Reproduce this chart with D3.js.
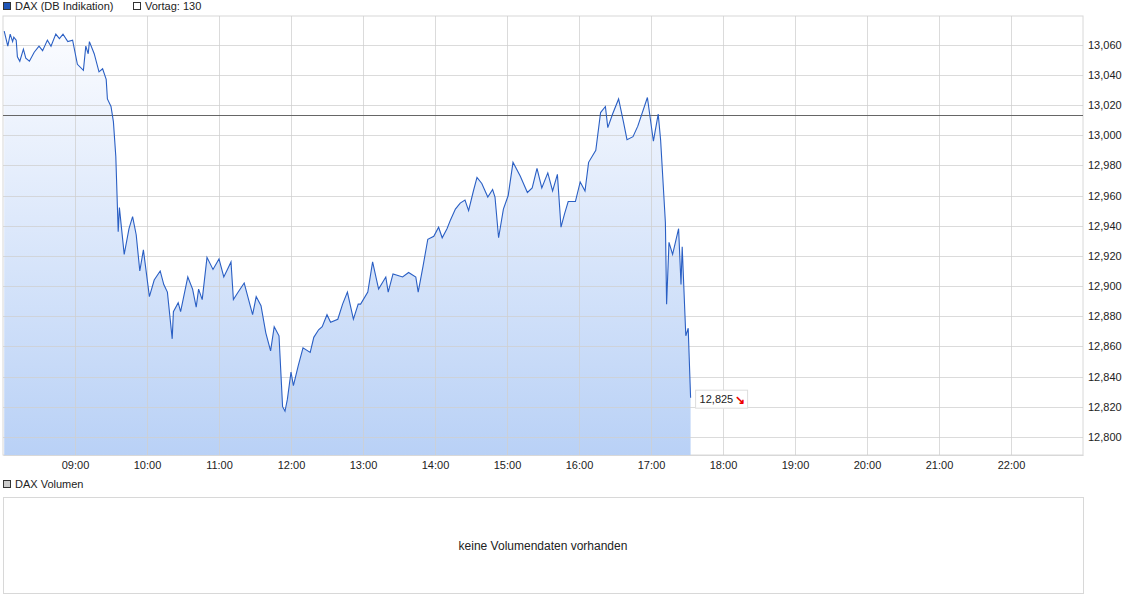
<!DOCTYPE html>
<html><head><meta charset="utf-8">
<script src="https://cdn.jsdelivr.net/npm/d3@7"></script>
<style>body{margin:0;background:#fff;font-family:Arial,"Liberation Sans",sans-serif}</style>
</head><body><svg id="c" width="1128" height="604"></svg>
<script>
// minutes after 08:00
var minutes = [1,4,6,8,9,11,12,14,17,19,22,26,30,33,37,40,44,47,50,54,58,62,67,69,71,72,76,80,83,86,87,90,92,94,96,97,101,105,108,111,114,117,122,126,131,134,137,141,142,146,148,154,158,161,163,166,170,175,180,184,187,190,192,196,201,204,208,211,215,219,223,226,230,233,235,237,240,242,246,250,256,259,263,266,270,273,279,283,287,292,296,298,304,308,313,319,321,325,333,338,344,346,350,354,359,363,366,370,373,377,381,385,388,392,395,399,404,408,410,413,417,421,425,431,437,441,445,449,454,458,462,465,468,471,477,481,485,488,494,498,502,504,508,513,517,520,525,529,537,542,546,548,552,553,555,558,563,565,566,569,571,573];
var prices = [13069,13059,13067,13062,13065,13063,13052,13049,13057,13051,13049,13055,13059,13056,13063,13059,13067,13064,13067,13062,13063,13047,13043,13059,13054,13062,13054,13042,13044,13037,13024,13019,13009,12986,12936,12952,12921,12938,12946,12934,12910,12924,12893,12904,12910,12901,12896,12865,12883,12889,12883,12906,12898,12886,12898,12891,12919,12911,12918,12906,12911,12916,12891,12896,12902,12893,12881,12893,12887,12869,12857,12873,12867,12820,12817,12825,12843,12834,12847,12859,12856,12866,12871,12873,12881,12876,12878,12888,12896,12878,12888,12888,12896,12916,12898,12906,12896,12908,12906,12909,12906,12896,12913,12931,12933,12939,12932,12938,12944,12951,12955,12957,12950,12963,12972,12968,12959,12964,12959,12932,12951,12960,12982,12973,12962,12965,12978,12965,12975,12963,12974,12939,12948,12956,12956,12969,12963,12982,12990,13015,13019,13005,13014,13024,13009,12997,12999,13006,13025,12996,13014,12997,12942,12888,12929,12921,12938,12901,12926,12867,12872,12826,12825];
var hourTicks = ["09:00","10:00","11:00","12:00","13:00","14:00","15:00","16:00","17:00","18:00","19:00","20:00","21:00","22:00"];
var priceTicks = [12800,12820,12840,12860,12880,12900,12920,12940,12960,12980,13000,13020,13040,13060];
var prevClose = 13013.5;
var lastPrice = 12825;

var de = d3.formatLocale({decimal:",",thousands:".",grouping:[3],currency:["","€"]});
var svg = d3.select("#c");
var L=3,R=1083,T=16,B=455;
var x = d3.scaleLinear().domain([0,900]).range([L,R]);
var y = d3.scaleLinear().domain([12788,13079]).range([B,T]);
var tmin = function(s){var p=s.split(":");return (+p[0]-8)*60+(+p[1]);};

var defs = svg.append("defs");
var g = defs.append("linearGradient").attr("id","gr").attr("x1",0).attr("x2",0).attr("y1",0).attr("y2",1);
g.append("stop").attr("offset",0).attr("stop-color","#fbfcff");
g.append("stop").attr("offset",1).attr("stop-color","#b9d1f6");

svg.append("rect").attr("x",L).attr("y",T).attr("width",R-L).attr("height",B-T).attr("fill","#fff").attr("stroke","#d8d8d8");

var data = minutes.map(function(m,i){return {m:m,v:prices[i]};});
svg.append("path").datum(data).attr("fill","url(#gr)")
  .attr("d",d3.area().x(function(d){return x(d.m);}).y0(B).y1(function(d){return y(d.v);}));

svg.append("g").selectAll("line").data(priceTicks).enter().append("line")
  .attr("x1",L).attr("x2",R).attr("y1",function(d){return Math.round(y(d))+0.5;}).attr("y2",function(d){return Math.round(y(d))+0.5;})
  .attr("stroke","#cfcfcf").attr("stroke-opacity",0.75);
svg.append("g").selectAll("line").data(hourTicks).enter().append("line")
  .attr("y1",T).attr("y2",B).attr("x1",function(d){return Math.round(x(tmin(d)))+0.5;}).attr("x2",function(d){return Math.round(x(tmin(d)))+0.5;})
  .attr("stroke","#cfcfcf").attr("stroke-opacity",0.75);

svg.append("line").attr("x1",L).attr("x2",R).attr("y1",Math.round(y(prevClose))+0.5).attr("y2",Math.round(y(prevClose))+0.5).attr("stroke","#666");

svg.append("path").datum(data).attr("fill","none").attr("stroke","#2a5fc4").attr("stroke-width",1.1)
  .attr("d",d3.line().x(function(d){return x(d.m);}).y(function(d){return y(d.v);}));

var fmt = de.format(",.3f");
var ya = d3.axisRight(y).tickValues(priceTicks).tickSize(0).tickPadding(5).tickFormat(function(d){return de.format(",.3f")(d/1000);});
svg.append("g").attr("transform","translate("+R+",0)").call(ya)
  .call(function(s){s.select(".domain").remove();s.selectAll("text").attr("font-size",11).attr("fill","#222").attr("font-family","Arial,'Liberation Sans',sans-serif");});
var xa = d3.axisBottom(x).tickValues(hourTicks.map(tmin)).tickSize(0).tickPadding(6).tickFormat(function(d,i){return hourTicks[i];});
svg.append("g").attr("transform","translate(0,"+B+")").call(xa)
  .call(function(s){s.select(".domain").attr("stroke","#d8d8d8");s.selectAll("text").attr("font-size",11).attr("fill","#222").attr("font-family","Arial,'Liberation Sans',sans-serif");});

// last price label
var lx = x(minutes[minutes.length-1])+5, ly = y(lastPrice);
svg.append("rect").attr("x",lx).attr("y",ly-9).attr("width",52).attr("height",18).attr("fill","#fff").attr("stroke","#ddd");
svg.append("text").attr("x",lx+4).attr("y",ly+4).attr("font-size",11).attr("fill","#222").text(de.format(",.3f")(lastPrice/1000));
svg.append("text").attr("x",lx+39).attr("y",ly+5).attr("font-size",12).attr("fill","#e00").attr("font-weight","bold").text("↘");

// legend
svg.append("rect").attr("x",3.5).attr("y",2.5).attr("width",7).attr("height",7).attr("fill","#1f56b8").attr("stroke","#333");
svg.append("text").attr("x",15).attr("y",10).attr("font-size",11).attr("fill","#222").text("DAX (DB Indikation)");
svg.append("rect").attr("x",133.5).attr("y",2.5).attr("width",7).attr("height",7).attr("fill","#fff").attr("stroke","#333");
svg.append("text").attr("x",145).attr("y",10).attr("font-size",11).attr("fill","#222").text("Vortag: "+de.format(",.1f")(prevClose/1000).replace(/,(\d)$/,"$1").replace(/^(\d+),(\d{3})(\d)$/,"$1.$2,$3"));

// volume panel
svg.append("rect").attr("x",3.5).attr("y",480.5).attr("width",7).attr("height",7).attr("fill","#ccc").attr("stroke","#333");
svg.append("text").attr("x",15).attr("y",488).attr("font-size",11).attr("fill","#222").text("DAX Volumen");
svg.append("rect").attr("x",3.5).attr("y",497.5).attr("width",R-L).attr("height",96).attr("fill","#fff").attr("stroke","#d8d8d8");
svg.append("text").attr("x",543).attr("y",550).attr("text-anchor","middle").attr("font-size",12).attr("fill","#222").text("keine Volumendaten vorhanden");
</script></body></html>
